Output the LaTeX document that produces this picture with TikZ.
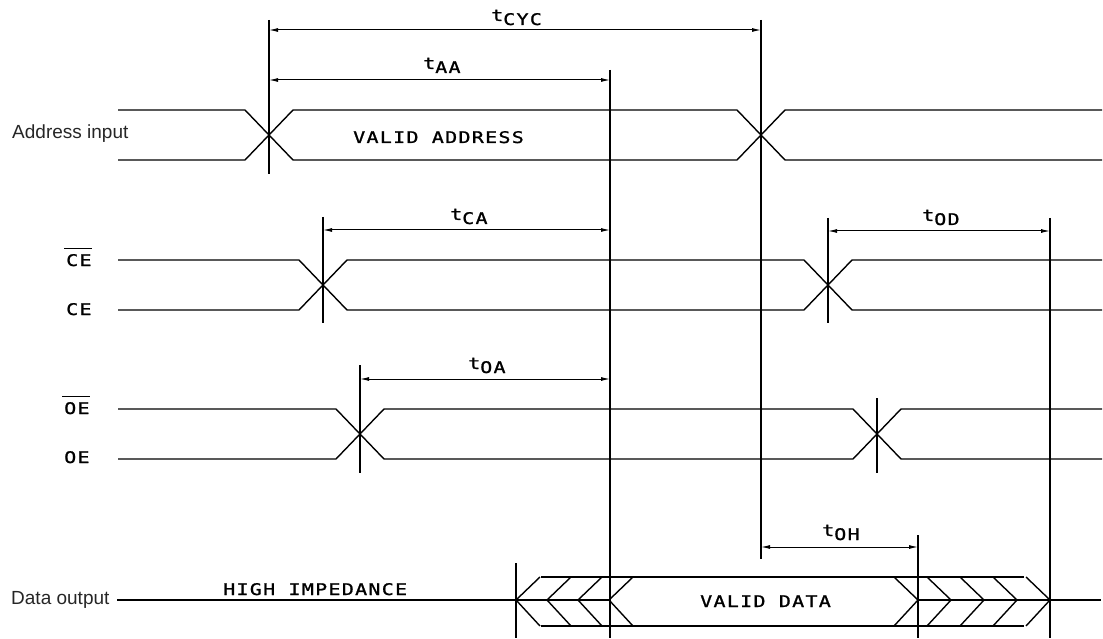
\documentclass[tikz,border=0pt]{standalone}
\usepackage{fontspec}
\setmainfont{Liberation Sans}
\newfontfamily\draftfont[LetterSpace=8,FakeStretch=1.25,FakeBold=1.2]{DejaVu Sans Mono}
\usetikzlibrary{arrows.meta}
\tikzset{
  sig/.style={line width=1.4pt, line join=round},
  guide/.style={line width=1.1pt},
  dim/.style={<->, line width=1pt},
  lbl/.style={font=\fontsize{19}{21}\selectfont, inner sep=0pt, anchor=base west, text=black!85},
  drafting/.style={font=\draftfont\fontsize{16}{18}\selectfont, inner sep=0pt, anchor=base west}
}
\newcommand{\tsub}[1]{t\raisebox{-4pt}{#1}}
\begin{document}
\begin{tikzpicture}[>={Latex[length=9pt,width=4pt]}, x=1pt, y=-1pt]
\useasboundingbox (0,0) rectangle (1103,639);
% address, CE and OE waveforms
\foreach \yt/\xa/\xb in {110/269/761,260/323/828,409/360/877}
{
  \draw[sig] (118,\yt) -- (\xa-24,\yt) -- (\xa+24,\yt+50) -- (\xb-24,\yt+50) -- (\xb+24,\yt) -- (1102,\yt);
  \draw[sig] (118,\yt+50) -- (\xa-24,\yt+50) -- (\xa+24,\yt) -- (\xb-24,\yt) -- (\xb+24,\yt+50) -- (1102,\yt+50);
}
% data output
\draw[sig] (117,600) -- (609,600);
\draw[sig] (918,600) -- (1101,600);
\draw[sig] (541,577) -- (1024,577);
\draw[sig] (541,626) -- (1024,626);
\foreach \x in {516,547,578,609}
  \draw[sig] (\x+24,577) -- (\x,600) -- (\x+24,626);
\foreach \x in {918,951,984,1017,1050}
  \draw[sig] (\x-24,577) -- (\x,600) -- (\x-24,626);
% reference lines
\foreach \x/\ya/\yb in {269/20/174,761/20/559,610/70/638,323/217/323,828/218/323,1050/218/638,360/365/473,877/398/473,516/563/638,918/535/638}
  \draw[guide] (\x,\ya) -- (\x,\yb);
% timings
\draw[dim] (269,30) -- (761,30);
\draw[dim] (269,80) -- (610,80);
\draw[dim] (323,230) -- (610,230);
\draw[dim] (828,231) -- (1050,231);
\draw[dim] (360,379) -- (610,379);
\draw[dim] (761,547) -- (918,547);
\node[drafting] (tcyc) at (491,21) {\tsub{CYC}};
\node[drafting] (taa) at (423,69) {\tsub{AA}};
\node[drafting] (tca) at (450,220) {\tsub{CA}};
\node[drafting] (toa) at (468,369) {\tsub{OA}};
\node[drafting] (tod) at (922,221) {\tsub{OD}};
\node[drafting] (toh) at (822,536) {\tsub{OH}};
% labels
\node[lbl] (addr) at (12,139) {Address input};
\node[lbl] (dout) at (11,604) {Data output};
\node[drafting] (vaddr) at (353,143) {VALID ADDRESS};
\node[drafting] (hiz) at (223,595) {HIGH IMPEDANCE};
\node[drafting] (vdata) at (700,607) {VALID DATA};
\node[drafting] (ceb) at (66,266) {CE};
\node[drafting] (ce) at (66,315) {CE};
\node[drafting] (oeb) at (64,414) {OE};
\node[drafting] (oe) at (64,463) {OE};
\draw[line width=1pt] ([shift={(-2,-5)}]ceb.north west) -- ([shift={(0,-5)}]ceb.north east);
\draw[line width=1pt] ([shift={(-2,-5)}]oeb.north west) -- ([shift={(0,-5)}]oeb.north east);
\end{tikzpicture}
\end{document}
